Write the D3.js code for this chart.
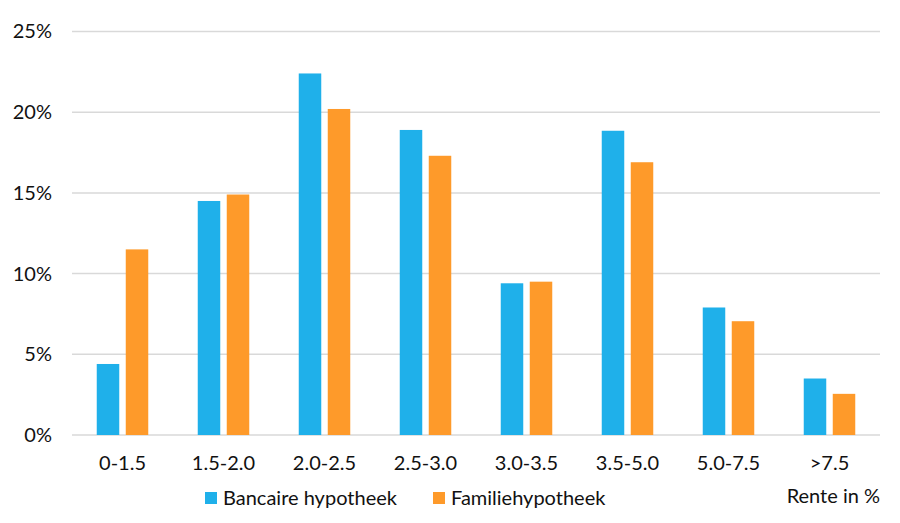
<!DOCTYPE html>
<html>
<head>
<meta charset="UTF-8">
<style>
  body { margin: 0; background: #ffffff; }
  svg text { font-family: 'Lato', 'Open Sans', sans-serif; fill: #111111; }
</style>
</head>
<body>
<svg width="900" height="523"></svg>
<script src="https://cdn.jsdelivr.net/npm/d3@7"></script>
<script>
// chart data
let categories = ["0-1.5", "1.5-2.0", "2.0-2.5", "2.5-3.0", "3.0-3.5", "3.5-5.0", "5.0-7.5", ">7.5"];
let seriesNames = ["Bancaire hypotheek", "Familiehypotheek"];
let bancaire = [4.4, 14.5, 22.4, 18.9, 9.4, 18.85, 7.9, 3.5];
let familie = [11.5, 14.9, 20.2, 17.3, 9.5, 16.9, 7.05, 2.55];
let yTicks = [0, 5, 10, 15, 20, 25];
let colors = ["#1fb0ea", "#fe9a2a"];

let svg = d3.select("svg");
let plotLeft = 72, plotRight = 880, plotTop = 31.5, plotBottom = 435;
let fontSize = "20px";

let x = d3.scaleBand()
  .domain(categories)
  .range([plotLeft, plotRight])
  .paddingInner(0.49)
  .paddingOuter(0.245);

let xInner = d3.scaleBand()
  .domain(seriesNames)
  .range([0, x.bandwidth()])
  .paddingInner(0.224);

let y = d3.scaleLinear().domain([0, 25]).range([plotBottom, plotTop]);

// gridlines
svg.append("g")
  .selectAll("line")
  .data(yTicks)
  .enter()
  .append("line")
  .attr("x1", plotLeft)
  .attr("x2", plotRight)
  .attr("y1", d => y(d))
  .attr("y2", d => y(d))
  .attr("stroke", "#d9d9d9")
  .attr("stroke-width", 1.5);

// y labels
let yAxis = svg.append("g")
  .attr("transform", "translate(" + (plotLeft - 20) + ",0)")
  .call(d3.axisLeft(y).tickValues(yTicks).tickFormat(d => d + "%").tickSize(0).tickPadding(0));
yAxis.select(".domain").remove();
yAxis.selectAll("text")
  .attr("font-size", fontSize)
  .attr("font-family", "Lato, sans-serif")
  .attr("fill", "#111111");

// x labels
let xAxis = svg.append("g")
  .attr("transform", "translate(0," + plotBottom + ")")
  .call(d3.axisBottom(x).tickSize(0).tickPadding(21));
xAxis.select(".domain").remove();
xAxis.selectAll("text")
  .attr("font-size", fontSize)
  .attr("font-family", "Lato, sans-serif")
  .attr("fill", "#111111");

// bars
let rows = categories.map((c, i) => ({cat: c, vals: [bancaire[i], familie[i]]}));

let groups = svg.append("g")
  .selectAll("g")
  .data(rows)
  .enter()
  .append("g")
  .attr("transform", d => "translate(" + x(d.cat) + ",0)");

groups.selectAll("rect")
  .data(d => d.vals.map((v, j) => ({name: seriesNames[j], v: v, j: j})))
  .enter()
  .append("rect")
  .attr("x", d => xInner(d.name))
  .attr("width", xInner.bandwidth())
  .attr("y", d => y(d.v))
  .attr("height", d => plotBottom - y(d.v))
  .attr("fill", d => colors[d.j]);

// legend
let legendX = [205, 433];
let legend = svg.append("g");
seriesNames.forEach((name, j) => {
  legend.append("rect")
    .attr("x", legendX[j])
    .attr("y", 492)
    .attr("width", 12)
    .attr("height", 12)
    .attr("fill", colors[j]);
  legend.append("text")
    .attr("x", legendX[j] + 18)
    .attr("y", 505)
    .attr("font-size", fontSize)
    .text(name);
});

svg.append("text")
  .attr("x", plotRight)
  .attr("y", 503)
  .attr("text-anchor", "end")
  .attr("font-size", fontSize)
  .text("Rente in %");
</script>
</body>
</html>
